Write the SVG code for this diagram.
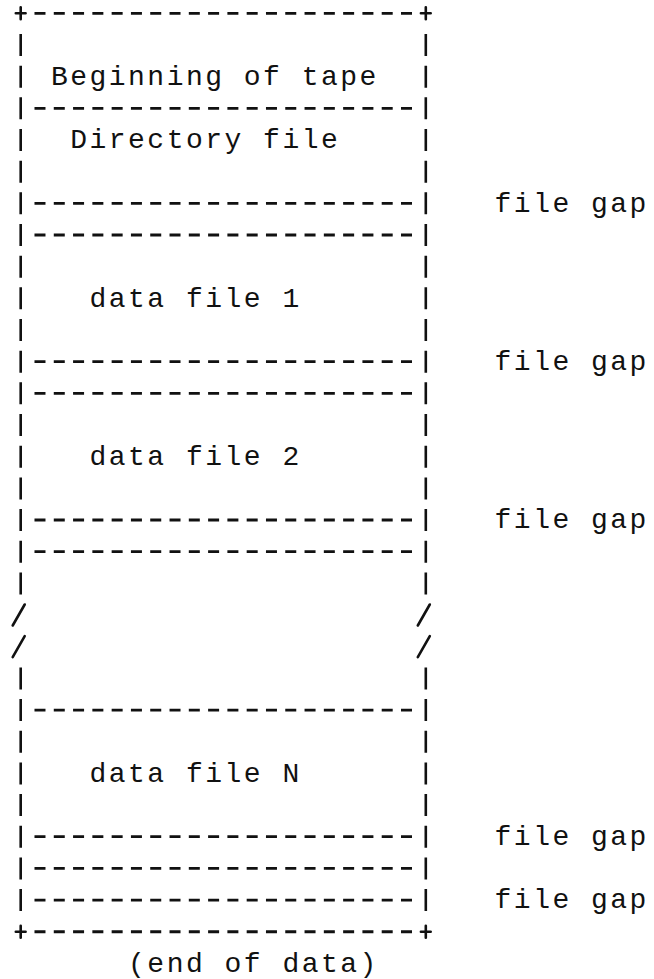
<svg xmlns="http://www.w3.org/2000/svg" width="654" height="979" viewBox="0 0 654 979">
<style>
.bg{fill:#ffffff}
.t{font-family:"Liberation Mono","Courier New",monospace;font-size:28px;letter-spacing:2.49px;fill:#111111}
.dash{stroke:#111111;stroke-width:2.8;fill:none;stroke-dasharray:11 8.29}
.bar{stroke:#111111;stroke-width:2.6;fill:none;stroke-dasharray:22 9.67}
.ln{stroke:#111111;stroke-width:2.6;fill:none;stroke-linecap:round}
</style>
<rect class="bg" x="0" y="0" width="654" height="979"/>
<g id="connectors">
  <g id="frame-sides">
    <path class="bar" d="M20.7 34 V594.4 M425.8 34 V594.4"/>
    <path class="bar" d="M20.7 667.4 V911.1 M425.8 667.4 V911.1"/>
  </g>
  <g id="corners">
    <path class="ln" d="M15.8 13.3 H25.6 M20.7 7.3 V19.3 M420.9 13.3 H430.7 M425.8 7.3 V19.3"/>
    <path class="ln" d="M15.8 931.73 H25.6 M20.7 925.7 V937.7 M420.9 931.73 H430.7 M425.8 925.7 V937.7"/>
  </g>
  <g id="break-marks">
    <path class="ln" d="M12.7 625.5 L24.7 604.5 M12.7 657.2 L24.7 636.2"/>
    <path class="ln" d="M417.8 625.5 L429.8 604.5 M417.8 657.2 L429.8 636.2"/>
  </g>
  <g id="separators">
    <path class="dash" d="M34.49 13.3 H412.01"/>
    <path class="dash" d="M34.49 108.31 H412.01"/>
    <path class="dash" d="M34.49 203.32 H412.01"/>
    <path class="dash" d="M34.49 234.99 H412.01"/>
    <path class="dash" d="M34.49 361.67 H412.01"/>
    <path class="dash" d="M34.49 393.34 H412.01"/>
    <path class="dash" d="M34.49 520.02 H412.01"/>
    <path class="dash" d="M34.49 551.69 H412.01"/>
    <path class="dash" d="M34.49 710.04 H412.01"/>
    <path class="dash" d="M34.49 836.72 H412.01"/>
    <path class="dash" d="M34.49 868.39 H412.01"/>
    <path class="dash" d="M34.49 900.06 H412.01"/>
    <path class="dash" d="M34.49 931.73 H412.01"/>
  </g>
</g>
<g id="beginning-of-tape"><text class="t" x="50.89" y="85.04">Beginning of tape</text></g>
<g id="directory-file"><text class="t" x="70.18" y="148.38">Directory file</text></g>
<g id="data-file-1"><text class="t" x="89.47" y="306.73">data file 1</text></g>
<g id="data-file-2"><text class="t" x="89.47" y="465.08">data file 2</text></g>
<g id="data-file-n"><text class="t" x="89.47" y="781.78">data file N</text></g>
<g id="file-gap-1"><text class="t" x="494.56" y="211.72">file gap</text></g>
<g id="file-gap-2"><text class="t" x="494.56" y="370.07">file gap</text></g>
<g id="file-gap-3"><text class="t" x="494.56" y="528.42">file gap</text></g>
<g id="file-gap-4"><text class="t" x="494.56" y="845.12">file gap</text></g>
<g id="file-gap-5"><text class="t" x="494.56" y="908.46">file gap</text></g>
<g id="end-of-data"><text class="t" x="128.05" y="971.8">(end of data)</text></g>
</svg>
